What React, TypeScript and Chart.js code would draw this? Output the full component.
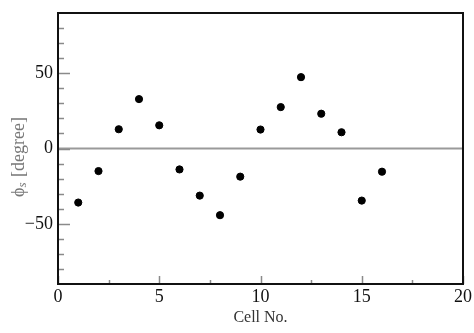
import React, { useEffect, useRef } from "react";
import { Chart, registerables } from "chart.js";

Chart.register(...registerables);

const CELLS = [1, 2, 3, 4, 5, 6, 7, 8, 9, 10, 11, 12, 13, 14, 15, 16];
const PHI_S = [-35.9, -15.0, 12.8, 32.8, 15.4, -13.9, -31.3, -44.3, -18.7, 12.6, 27.5, 47.4, 23.1, 10.8, -34.6, -15.4];
const X_MAJOR = [0, 5, 10, 15, 20];
const X_MINOR = [2.5, 7.5, 12.5, 17.5];
const Y_MAJOR = [-50, 0, 50];
const Y_MINOR = [-80, -70, -60, -40, -30, -20, -10, 10, 20, 30, 40, 60, 70, 80];
const X_TITLE = "Cell No.";
const Y_TITLE_SYM = "\u03D5";
const Y_TITLE_SUB = "s";
const Y_TITLE_REST = " [degree]";

const SERIF = "'Liberation Serif', 'DejaVu Serif', serif";

const framePlugin = {
  id: "framePlugin",
  beforeDatasetsDraw(chart: any) {
    const { ctx, chartArea: a, scales } = chart;
    const y0 = scales.y.getPixelForValue(0);
    ctx.save();
    ctx.strokeStyle = "#9a9a9a";
    ctx.lineWidth = 2;
    ctx.beginPath();
    ctx.moveTo(a.left, y0);
    ctx.lineTo(a.right, y0);
    ctx.stroke();
    ctx.restore();
  },
  afterDatasetsDraw(chart: any) {
    const { ctx, chartArea: a, scales } = chart;
    ctx.save();
    ctx.strokeStyle = "#8a8a8a";
    ctx.lineWidth = 1.5;
    ctx.beginPath();
    for (const v of Y_MAJOR) {
      const p = Math.round(scales.y.getPixelForValue(v)) + 0.5;
      ctx.moveTo(a.left, p);
      ctx.lineTo(a.left + 12, p);
    }
    for (const v of Y_MINOR) {
      const p = Math.round(scales.y.getPixelForValue(v)) + 0.5;
      ctx.moveTo(a.left, p);
      ctx.lineTo(a.left + 6, p);
    }
    for (const v of X_MAJOR) {
      const p = Math.round(scales.x.getPixelForValue(v)) + 0.5;
      ctx.moveTo(p, a.bottom);
      ctx.lineTo(p, a.bottom - 8);
    }
    for (const v of X_MINOR) {
      const p = Math.round(scales.x.getPixelForValue(v)) + 0.5;
      ctx.moveTo(p, a.bottom);
      ctx.lineTo(p, a.bottom - 4);
    }
    ctx.stroke();
    ctx.strokeStyle = "#111";
    ctx.lineWidth = 2;
    ctx.strokeRect(a.left, a.top, a.right - a.left, a.bottom - a.top);
    ctx.restore();
  },
  afterDraw(chart: any) {
    const { ctx, chartArea: a } = chart;
    ctx.save();
    // x title
    ctx.font = `16px ${SERIF}`;
    ctx.fillStyle = "#333";
    ctx.textAlign = "center";
    ctx.textBaseline = "middle";
    ctx.fillText(X_TITLE, (a.left + a.right) / 2, 318);
    // y title
    ctx.translate(19, 157);
    ctx.rotate(-Math.PI / 2);
    ctx.fillStyle = "#777";
    ctx.textAlign = "left";
    ctx.textBaseline = "middle";
    const fMain = `18px ${SERIF}`;
    const fSub = `italic 13px ${SERIF}`;
    ctx.font = fMain;
    const w1 = ctx.measureText(Y_TITLE_SYM).width;
    const w3 = ctx.measureText(Y_TITLE_REST).width;
    ctx.font = fSub;
    const w2 = ctx.measureText(Y_TITLE_SUB).width + 1;
    const total = w1 + w2 + w3;
    let x = -total / 2;
    ctx.font = fMain;
    ctx.fillText(Y_TITLE_SYM, x, 0);
    x += w1;
    ctx.font = fSub;
    ctx.fillText(Y_TITLE_SUB, x, 4);
    x += w2;
    ctx.font = fMain;
    ctx.fillText(Y_TITLE_REST, x, 0);
    ctx.restore();
  },
};

export default function App() {
  const ref = useRef<HTMLCanvasElement>(null);
  useEffect(() => {
    document.body.style.margin = "0";
    const chart = new Chart(ref.current as HTMLCanvasElement, {
      type: "scatter",
      data: {
        datasets: [
          {
            data: CELLS.map((c, i) => ({ x: c, y: PHI_S[i] })),
            backgroundColor: "#000",
            borderColor: "#000",
            pointRadius: 3.6,
            pointHoverRadius: 3.6,
          },
        ],
      },
      options: {
        responsive: false,
        animation: false,
        events: [],
        layout: { padding: { left: 0, right: 11, top: 13, bottom: 0 } },
        plugins: { legend: { display: false }, tooltip: { enabled: false } },
        scales: {
          x: {
            type: "linear",
            min: 0,
            max: 20,
            grid: { display: false, drawTicks: false, tickLength: 0 },
            border: { display: false },
            afterBuildTicks: (s: any) => {
              s.ticks = X_MAJOR.map((v) => ({ value: v }));
            },
            afterFit: (s: any) => {
              s.height = 49;
              s.paddingLeft = 0;
              s.paddingRight = 0;
            },
            ticks: {
              font: { family: SERIF, size: 18 },
              color: "#111",
              padding: 2,
              maxRotation: 0,
            },
          },
          y: {
            type: "linear",
            min: -90,
            max: 90,
            grid: { display: false, drawTicks: false, tickLength: 0 },
            border: { display: false },
            afterBuildTicks: (s: any) => {
              s.ticks = Y_MAJOR.map((v) => ({ value: v }));
            },
            afterFit: (s: any) => {
              s.width = 58;
              s.paddingTop = 0;
              s.paddingBottom = 0;
            },
            ticks: {
              font: { family: SERIF, size: 18 },
              color: "#111",
              padding: 5,
              callback: (v: any) => (Number(v) < 0 ? "\u2212" + Math.abs(Number(v)) : String(v)),
            },
          },
        },
      },
      plugins: [framePlugin],
    } as any);
    return () => chart.destroy();
  }, []);
  return (
    <div style={{ width: 474, height: 333 }}>
      <canvas ref={ref} width={474} height={333} />
    </div>
  );
}
